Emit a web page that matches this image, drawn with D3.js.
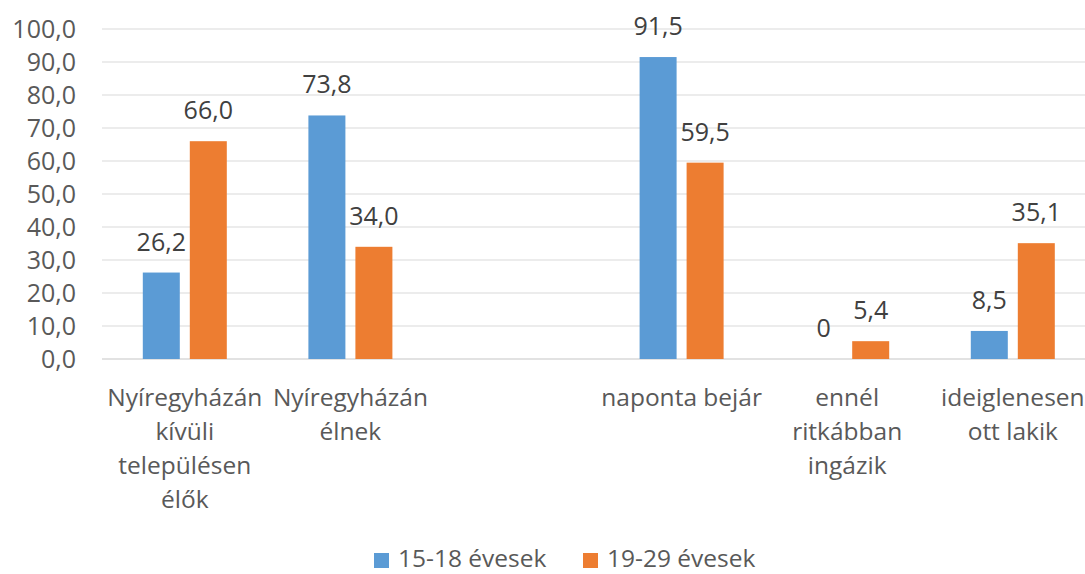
<!DOCTYPE html>
<html>
<head>
  <meta charset="utf-8">
  <title>Bar Chart</title>
  <script src="https://d3js.org/d3.v7.min.js"></script>
  <style>
    body { margin: 0; background: #fff; }
    text { font-family: "Open Sans", "Noto Sans", sans-serif; }
  </style>
</head>
<body>
  <svg id="bar_chart" width="1085" height="574"></svg>

  <script>
    // Data
    var categories = ["kivuli", "elnek", "ures", "naponta", "ritkabban", "ideiglenesen"];
    var categoryLabels = [
      ["Nyíregyházán", "kívüli", "településen", "élők"],
      ["Nyíregyházán", "élnek"],
      [],
      ["naponta bejár"],
      ["ennél", "ritkábban", "ingázik"],
      ["ideiglenesen", "ott lakik"]
    ];
    var seriesNames = ["15-18 évesek", "19-29 évesek"];
    var values1518 = [26.2, 73.8, null, 91.5, 0, 8.5];
    var values1929 = [66.0, 34.0, null, 59.5, 5.4, 35.1];
    var valueLabels1518 = ["26,2", "73,8", "", "91,5", "0", "8,5"];
    var valueLabels1929 = ["66,0", "34,0", "", "59,5", "5,4", "35,1"];
    var yTicks = [0, 10, 20, 30, 40, 50, 60, 70, 80, 90, 100];
    var colors = ["#5b9bd5", "#ed7d31"];

    var svg = d3.select("#bar_chart");

    // Scales
    var xScale = d3.scaleBand()
      .domain(categories)
      .range([102, 1095.6])
      .padding(0);

    var inner = d3.scaleBand()
      .domain(seriesNames)
      .range([-42, 42])
      .paddingInner(0.2128);

    var yScale = d3.scaleLinear()
      .domain([0, 100])
      .range([359, 29]);

    // Gridlines
    svg.append("g")
      .selectAll("line")
      .data(yTicks)
      .enter()
      .append("line")
      .attr("x1", 102)
      .attr("x2", 1085)
      .attr("y1", function(d) { return yScale(d); })
      .attr("y2", function(d) { return yScale(d); })
      .style("stroke", "#d9d9d9")
      .style("stroke-width", function(d) { return d === 0 ? 1.5 : 1; });

    // Y axis labels
    var yAxis = d3.axisLeft(yScale)
      .tickValues(yTicks)
      .tickSize(0)
      .tickPadding(0)
      .tickFormat(function(d) { return d3.format(".1f")(d).replace(".", ","); });

    var yg = svg.append("g")
      .attr("transform", "translate(76,0)")
      .call(yAxis);
    yg.select(".domain").remove();
    yg.selectAll("text")
      .style("font-family", "Open Sans")
      .style("font-size", "25px")
      .style("fill", "#595959");

    // Bars
    var rows = categories.map(function(c, i) {
      return [
        { cat: c, s: seriesNames[0], v: values1518[i], label: valueLabels1518[i], color: colors[0] },
        { cat: c, s: seriesNames[1], v: values1929[i], label: valueLabels1929[i], color: colors[1] }
      ];
    });
    var flat = [].concat.apply([], rows).filter(function(d) { return d.v !== null; });

    svg.append("g")
      .selectAll("rect")
      .data(flat)
      .enter()
      .append("rect")
      .attr("x", function(d) { return xScale(d.cat) + xScale.bandwidth() / 2 + inner(d.s); })
      .attr("width", inner.bandwidth())
      .attr("y", function(d) { return yScale(d.v); })
      .attr("height", function(d) { return yScale(0) - yScale(d.v); })
      .attr("fill", function(d) { return d.color; });

    // Value labels
    svg.append("g")
      .selectAll("text")
      .data(flat)
      .enter()
      .append("text")
      .attr("x", function(d) { return xScale(d.cat) + xScale.bandwidth() / 2 + inner(d.s) + inner.bandwidth() / 2; })
      .attr("y", function(d) { return yScale(d.v) - 22; })
      .attr("text-anchor", "middle")
      .style("font-size", "25px")
      .style("fill", "#404040")
      .text(function(d) { return d.label; });

    // Category labels
    var xg = svg.append("g");
    categories.forEach(function(c, i) {
      var t = xg.append("text")
        .attr("x", xScale(c) + xScale.bandwidth() / 2)
        .attr("y", 406)
        .attr("text-anchor", "middle")
        .style("font-size", "24.5px")
        .style("fill", "#595959");
      categoryLabels[i].forEach(function(line, j) {
        t.append("tspan")
          .attr("x", xScale(c) + xScale.bandwidth() / 2)
          .attr("dy", j === 0 ? 0 : 34)
          .text(line);
      });
    });

    // Legend
    var legendX = [374, 583];
    var legend = svg.append("g").attr("class", "legend");
    seriesNames.forEach(function(name, i) {
      legend.append("rect")
        .attr("x", legendX[i])
        .attr("y", 553)
        .attr("width", 15)
        .attr("height", 15)
        .attr("fill", colors[i]);
      legend.append("text")
        .attr("x", legendX[i] + 24)
        .attr("y", 567)
        .style("font-size", "24.5px")
        .style("fill", "#595959")
        .text(name);
    });
  </script>
</body>
</html>
